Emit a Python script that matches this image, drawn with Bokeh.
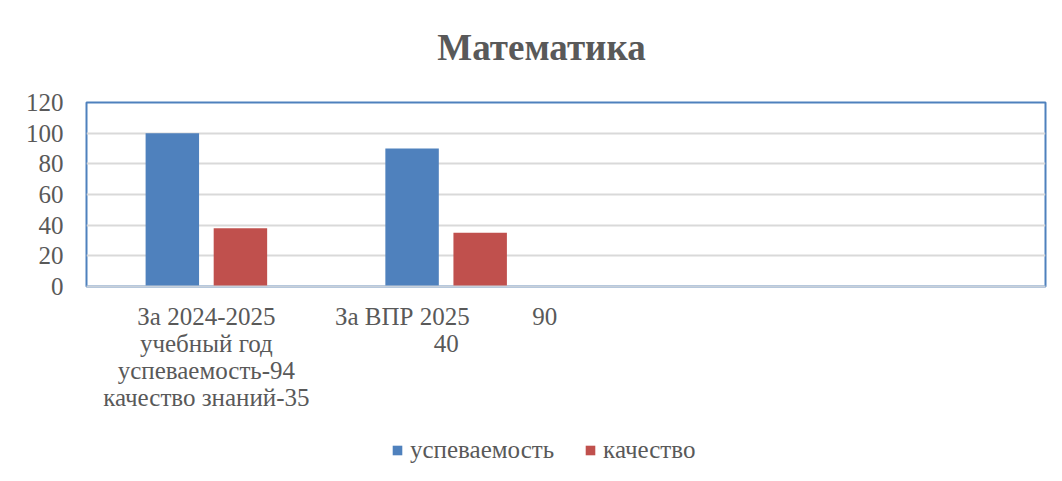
from bokeh.plotting import figure
from bokeh.layouts import column
from bokeh.models import ColumnDataSource, FactorRange, Range1d, FixedTicker, Legend, LegendItem, Label
from bokeh.transform import dodge
from bokeh.embed import file_html
from bokeh.resources import INLINE

NB = "\u00a0"
categories = [
    "За 2024-2025\nучебный год\nуспеваемость-94\nкачество знаний-35",
    "За ВПР 2025" + NB * 10 + "90\n40",
    " ",
    "  ",
]
uspevaemost = [100, 90, 0, 0]
kachestvo = [38, 35, 0, 0]
series_names = ["успеваемость", "качество"]
series_colors = ["#4f81bd", "#c0504d"]
title_text = "Математика"
y_ticks = [0, 20, 40, 60, 80, 100, 120]

FONT = "Liberation Serif"
GREY = "#595959"
FS = "25px"


def strip(height):
    f = figure(width=1060, height=height, output_backend="svg", toolbar_location=None,
               x_axis_type=None, y_axis_type=None, x_range=Range1d(0, 1), y_range=Range1d(0, 1),
               min_border=0, background_fill_color="white", border_fill_color="white")
    f.outline_line_color = None
    f.grid.grid_line_color = None
    return f


# title strip
p0 = strip(70)
p0.add_layout(Label(x=455, y=23, x_units="screen", y_units="screen", text=title_text,
                    text_font=FONT, text_font_style="bold", text_font_size="37px",
                    text_color=GREY, text_align="center", text_baseline="middle"))

src = ColumnDataSource(dict(cat=categories, u=uspevaemost, k=kachestvo))

p = figure(
    x_range=FactorRange(factors=categories, range_padding=0),
    y_range=Range1d(0, 120),
    width=1060, height=360,
    output_backend="svg", toolbar_location=None,
    min_border_left=86, min_border_right=15, min_border_top=32, min_border_bottom=144,
    background_fill_color="white", border_fill_color="white",
)

p.vbar(x=dodge("cat", -0.142, range=p.x_range), top="u", width=0.223, source=src,
       fill_color=series_colors[0], line_color=None)
p.vbar(x=dodge("cat", 0.142, range=p.x_range), top="k", width=0.223, source=src,
       fill_color=series_colors[1], line_color=None)

p.outline_line_color = "#4f81bd"
p.outline_line_width = 2
p.outline_line_alpha = 1

p.xgrid.grid_line_color = None
p.ygrid.grid_line_color = "#d9d9d9"
p.ygrid.grid_line_width = 2

p.yaxis.ticker = FixedTicker(ticks=y_ticks)
p.yaxis.axis_line_color = None
p.yaxis.major_tick_line_color = None
p.yaxis.minor_tick_line_color = None
p.yaxis.major_tick_out = 0
p.yaxis.major_tick_in = 0
p.yaxis.major_label_standoff = 23
p.yaxis.major_label_text_font = FONT
p.yaxis.major_label_text_font_size = FS
p.yaxis.major_label_text_color = GREY

p.xaxis.axis_line_color = "#c8d0da"
p.xaxis.axis_line_width = 2
p.xaxis.major_tick_line_color = None
p.xaxis.major_tick_out = 0
p.xaxis.major_tick_in = 0
p.xaxis.major_label_standoff = 16
p.xaxis.major_label_text_font = FONT
p.xaxis.major_label_text_font_size = FS
p.xaxis.major_label_text_color = GREY
p.xaxis.major_label_text_line_height = 1.0

# legend strip
p2 = strip(48)
lr1 = p2.vbar(x=[0.5], top=[0], width=0.1, fill_color=series_colors[0], line_color=None)
lr2 = p2.vbar(x=[0.5], top=[0], width=0.1, fill_color=series_colors[1], line_color=None)
legend = Legend(items=[LegendItem(label=series_names[0], renderers=[lr1]),
                       LegendItem(label=series_names[1], renderers=[lr2])],
                location=(305, 14), orientation="horizontal",
                border_line_color=None, background_fill_alpha=0,
                padding=0, margin=0, spacing=30, label_standoff=7,
                glyph_width=12, glyph_height=12,
                label_text_font=FONT, label_text_font_size=FS, label_text_color=GREY)
p2.add_layout(legend, "center")

open("out.html", "w").write(file_html(column(p0, p, p2, spacing=0), INLINE))
